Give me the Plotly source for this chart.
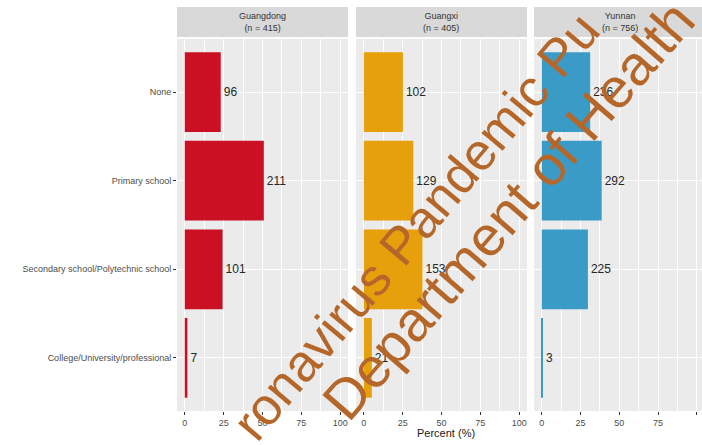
import plotly.graph_objects as go

# Education level counts by province
categories = ["None", "Primary school", "Secondary school/Polytechnic school",
              "College/University/professional"]
provinces = ["Guangdong", "Guangxi", "Yunnan"]
guangdong = [96, 211, 101, 7]
guangxi = [102, 129, 153, 21]
yunnan = [236, 292, 225, 3]
colors = ["#CB1024", "#E6A00C", "#3B9BC7"]
x_ticks = [0, 25, 50, 75, 100]

series = [guangdong, guangxi, yunnan]

W, H = 702, 445
# panel extents in pixels
panels_px = [(177, 348), (356, 527), (534, 702)]
x_ranges = [[-5, 105], [-5, 105], [-5, 103.3]]
panel_top, panel_bot = 39, 411
strip_top = 7

def px_x(p):
    return p / W

def px_y(p):
    return 1 - p / H

fig = go.Figure()

for i, (name, counts) in enumerate(zip(provinces, series)):
    n = sum(counts)
    pct = [c / n * 100 for c in counts]
    sfx = "" if i == 0 else str(i + 1)
    fig.add_trace(go.Bar(
        x=pct, y=categories, orientation="h",
        marker=dict(color=colors[i], line=dict(width=0)),
        width=0.9,
        text=[str(c) for c in counts],
        textposition="outside",
        textfont=dict(size=12, color="#262626", family="Liberation Sans"),
        cliponaxis=False,
        xaxis="x" + sfx, yaxis="y" + sfx,
        showlegend=False,
        hoverinfo="skip",
    ))

tick_font = dict(size=9, color="#4D4D4D", family="Liberation Sans")

layout = dict(
    width=W, height=H,
    margin=dict(l=0, r=0, t=0, b=0),
    paper_bgcolor="white", plot_bgcolor="#EBEBEB",
    bargap=0.1,
)
for i, (l, r) in enumerate(panels_px):
    sfx = "" if i == 0 else str(i + 1)
    layout["xaxis" + sfx] = dict(
        domain=[px_x(l), px_x(r)], range=x_ranges[i],
        tickvals=x_ticks, ticks="outside", ticklen=3, tickcolor="#333333",
        tickfont=tick_font,
        showgrid=True, gridcolor="white", gridwidth=1.1,
        zeroline=False, showline=False,
        minor=dict(dtick=12.5, tick0=0, showgrid=True, gridcolor="white", gridwidth=0.5),
        anchor="y" + sfx,
    )
    layout["yaxis" + sfx] = dict(
        domain=[px_y(panel_bot), px_y(panel_top)],
        categoryorder="array", categoryarray=categories[::-1],
        range=[-0.6, 3.6],
        ticks="outside" if i == 0 else "", ticklen=3, tickcolor="#333333",
        showticklabels=(i == 0),
        tickfont=tick_font,
        showgrid=True, gridcolor="white", gridwidth=1.1,
        zeroline=False, showline=False,
        anchor="x" + sfx,
    )

fig.update_layout(**layout)

shapes = []
annotations = []
for i, (l, r) in enumerate(panels_px):
    # facet strip
    shapes.append(dict(type="rect", xref="paper", yref="paper",
                       x0=px_x(l), x1=px_x(r), y0=px_y(panel_top - 2), y1=px_y(strip_top),
                       fillcolor="#D9D9D9", line=dict(width=0), layer="below"))
    n = sum(series[i])
    cx = (l + (l + 172)) / 2 if i == 2 else (l + r) / 2
    annotations.append(dict(
        xref="paper", yref="paper", x=px_x(cx), y=px_y((strip_top + panel_top - 2) / 2),
        text=f"{provinces[i]}<br>(n = {n})", showarrow=False,
        font=dict(size=9, color="#333333", family="Liberation Sans"),
        xanchor="center", yanchor="middle",
    ))

annotations.append(dict(
    xref="paper", yref="paper", x=px_x(446), y=px_y(433),
    text="Percent (%)", showarrow=False,
    font=dict(size=11, color="#1A1A1A", family="Liberation Sans"),
    xanchor="center", yanchor="middle",
))

# watermark overlay
annotations.append(dict(
    xref="paper", yref="paper", x=px_x(416), y=px_y(226),
    text="ronavirus Pandemic Pu", showarrow=False, textangle=-50,
    font=dict(size=52, color="#B5672A", family="Liberation Sans"),
    xanchor="center", yanchor="middle",
))
annotations.append(dict(
    xref="paper", yref="paper", x=px_x(508), y=px_y(210),
    text="Department of Health", showarrow=False, textangle=-49,
    font=dict(size=56, color="#B5672A", family="Liberation Sans"),
    xanchor="center", yanchor="middle",
))

fig.update_layout(shapes=shapes, annotations=annotations)
fig.write_html("out.html")
